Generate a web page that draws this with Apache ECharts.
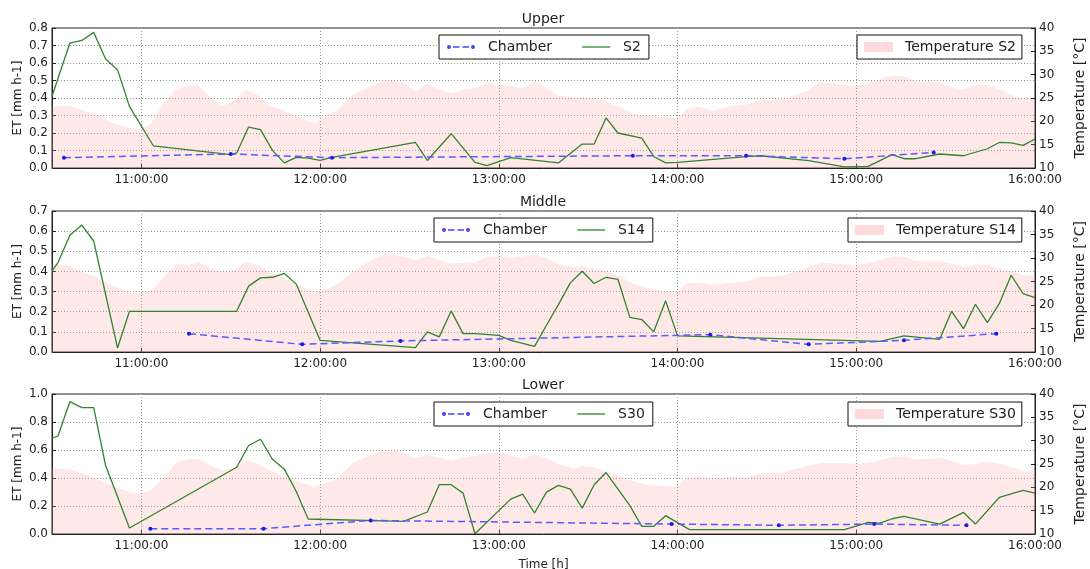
<!DOCTYPE html>
<html>
<head>
<meta charset="utf-8">
<script src="https://cdn.jsdelivr.net/npm/echarts@6/dist/echarts.min.js"></script>
<style>html,body{margin:0;padding:0;background:#fff}#c{width:1090px;height:569px}</style>
</head>
<body>
<div id="c"></div>
<script>
// ---------------- DATA ----------------
const panelTitles = ['Upper', 'Middle', 'Lower'];
const sensorNames = ['S2', 'S14', 'S30'];
const tempNames = ['Temperature S2', 'Temperature S14', 'Temperature S30'];
const etMax = [0.8, 0.7, 1.0];
const etStep = [0.1, 0.1, 0.2];

const s2Times = ['10:30','10:36','10:40','10:44','10:48','10:52','10:56','11:04','11:30','11:32','11:36','11:40','11:44','11:48','11:52','11:56','12:00','12:04','12:32','12:36','12:44','12:52','12:56','13:04','13:20','13:28','13:32','13:36','13:40','13:48','13:52','13:56','14:00','14:24','14:28','14:44','14:56','15:04','15:12','15:16','15:20','15:28','15:36','15:44','15:48','15:52','15:56','16:00'];
const s2Values = [0.41,0.714,0.729,0.775,0.623,0.562,0.352,0.127,0.076,0.086,0.234,0.219,0.101,0.029,0.061,0.057,0.043,0.061,0.146,0.043,0.196,0.032,0.013,0.059,0.029,0.137,0.137,0.286,0.2,0.171,0.066,0.029,0.032,0.066,0.07,0.042,0.006,0.009,0.076,0.053,0.053,0.08,0.07,0.11,0.146,0.143,0.129,0.166];

const s14Times = ['10:30','10:32','10:36','10:40','10:44','10:52','10:56','11:32','11:36','11:40','11:44','11:48','11:52','12:00','12:32','12:36','12:40','12:44','12:48','12:52','13:00','13:04','13:12','13:16','13:20','13:24','13:28','13:32','13:36','13:40','13:44','13:48','13:52','13:56','14:00','15:08','15:16','15:28','15:32','15:36','15:40','15:44','15:48','15:52','15:56','16:00'];
const s14Values = [0.401,0.444,0.58,0.63,0.551,0.02,0.202,0.202,0.327,0.368,0.371,0.39,0.337,0.058,0.022,0.1,0.075,0.204,0.091,0.091,0.083,0.058,0.028,0.133,0.235,0.343,0.401,0.34,0.371,0.36,0.172,0.161,0.1,0.254,0.08,0.053,0.08,0.063,0.202,0.116,0.237,0.146,0.24,0.381,0.29,0.27];

const s30Times = ['10:30','10:32','10:36','10:40','10:44','10:48','10:56','11:32','11:36','11:40','11:44','11:48','11:52','11:56','12:28','12:36','12:40','12:44','12:48','12:52','13:04','13:08','13:12','13:16','13:20','13:24','13:28','13:32','13:36','13:44','13:48','13:52','13:56','14:04','14:56','15:04','15:08','15:12','15:16','15:28','15:36','15:40','15:48','15:56','16:00'];
const s30Values = [0.684,0.70,0.945,0.903,0.903,0.489,0.043,0.477,0.632,0.677,0.534,0.463,0.304,0.107,0.09,0.157,0.352,0.352,0.292,0.002,0.249,0.285,0.15,0.299,0.347,0.321,0.185,0.352,0.439,0.202,0.055,0.055,0.131,0.031,0.031,0.083,0.078,0.109,0.126,0.071,0.154,0.071,0.261,0.311,0.292];

const chamberUpperTimes = ['10:34','11:30','12:04','13:45','14:23','14:56','15:26'];
const chamberUpperValues = [0.059,0.08,0.059,0.07,0.07,0.053,0.089];
const chamberMiddleTimes = ['11:16','11:54','12:27','14:11','14:44','15:16','15:47'];
const chamberMiddleValues = [0.091,0.038,0.055,0.086,0.038,0.058,0.091];
const chamberLowerTimes = ['11:03','11:41','12:17','13:58','14:34','15:06','15:37'];
const chamberLowerValues = [0.038,0.038,0.097,0.071,0.062,0.071,0.062];

const tempTimes = ['10:30','10:36','10:40','10:46','10:51','10:56','10:59','11:03','11:08','11:12','11:16','11:19','11:23','11:27','11:31','11:35','11:40','11:43','11:47','11:52','11:58','12:02','12:06','12:11','12:17','12:22','12:25','12:28','12:32','12:36','12:40','12:44','12:48','12:52','12:56','13:00','13:04','13:08','13:12','13:16','13:20','13:25','13:28','13:32','13:36','13:41','13:45','13:50','13:56','14:00','14:03','14:07','14:12','14:17','14:23','14:28','14:35','14:43','14:48','14:55','15:00','15:06','15:12','15:16','15:20','15:28','15:33','15:36','15:40','15:44','15:49','15:53','15:57','16:00'];
const tempUpper = [23.2,23.35,22.5,21.1,19.5,18.6,18.2,19.3,24.3,27.0,27.6,27.6,25.3,23.3,24.3,26.8,25.3,23.3,22.5,21.1,19.6,21.2,22.5,25.7,27.5,28.9,28.7,28.3,26.4,28.0,26.9,25.9,26.8,27.1,28.1,27.8,27.5,27.1,28.6,27.1,25.5,25.1,25.2,25.0,24.3,22.9,21.6,21.1,20.9,20.7,22.5,23.1,22.3,23.1,23.6,24.5,24.7,26.4,28.4,27.9,27.5,28.6,29.8,29.6,28.6,28.3,27.1,26.9,27.9,27.8,26.6,25.3,24.8,24.8];
const tempMiddle = [28.7,28.3,27.2,25.6,23.9,22.7,22.4,22.9,26.3,28.8,28.5,29.2,27.8,26.9,27.4,29.2,28.3,26.9,26.0,24.4,22.8,23.3,24.6,27.1,29.5,31.0,30.6,30.3,29.5,30.5,29.5,28.8,29.0,29.0,30.3,30.3,30.0,30.3,30.8,29.9,28.6,28.1,28.3,27.8,27.2,26.0,24.6,23.5,22.9,22.8,24.6,24.8,24.3,24.7,25.0,26.0,26.1,27.8,29.0,28.7,28.3,29.2,30.3,30.3,29.3,29.3,28.6,28.1,28.5,28.5,27.6,26.9,26.3,26.2];
const tempLower = [24.1,23.8,23.0,21.6,20.1,19.0,18.6,19.3,22.3,25.5,26.0,26.1,24.8,23.6,24.1,25.9,24.8,23.6,22.7,21.3,20.1,20.9,22.0,25.2,27.0,28.0,27.8,27.3,26.3,27.0,26.4,25.7,26.4,26.7,27.3,27.3,26.8,26.1,27.1,26.3,25.0,24.0,24.6,24.3,23.3,22.3,21.3,20.5,20.3,20.1,22.0,22.3,21.8,22.2,22.1,22.9,23.1,24.5,25.2,25.2,25.0,25.5,26.5,26.6,25.9,26.3,25.5,24.8,25.0,25.5,25.0,24.1,23.4,23.5];

// ---------------- BUILD ----------------
const FONT = 'DejaVu Sans';
function toH(s) { const p = s.split(':'); return +p[0] + (+p[1]) / 60; }
function pairs(times, vals) { return times.map((t, i) => [toH(t), vals[i]]); }
function fmtTime(v) {
  if (Math.abs(v - Math.round(v)) > 1e-6) return '';
  const h = Math.round(v);
  return (h < 10 ? '0' : '') + h + ':00:00';
}

const sensorSeries = [pairs(s2Times, s2Values), pairs(s14Times, s14Values), pairs(s30Times, s30Values)];
const chamberSeries = [pairs(chamberUpperTimes, chamberUpperValues), pairs(chamberMiddleTimes, chamberMiddleValues), pairs(chamberLowerTimes, chamberLowerValues)];
const tempSeries = [pairs(tempTimes, tempUpper), pairs(tempTimes, tempMiddle), pairs(tempTimes, tempLower)];

const gridTops = [28, 211, 394];
const gridH = [140, 141, 140];
const legendTops = [35, 218, 402];
const leftLegendX = [439, 434, 434];
const rightLegendX = [857, 848, 848];

// legend glyphs (line handle; dashed handle with end dots)
const lineIcon = 'path://M0,0 L28,0 L28,1.4 L0,1.4 Z';
const chamberIcon = 'path://M0,5 A2,2 0 1,1 4,5 A2,2 0 1,1 0,5 Z M6,4.3 L12.5,4.3 L12.5,5.7 L6,5.7 Z M15.5,4.3 L22,4.3 L22,5.7 L15.5,5.7 Z M24,5 A2,2 0 1,1 28,5 A2,2 0 1,1 24,5 Z M0,0 L0.01,0 L0.01,0.01 Z M0,10 L0.01,10 L0.01,9.99 Z';

const textColor = '#222';
const grids = [], xAxes = [], yAxes = [], series = [], titles = [], legends = [];

for (let i = 0; i < 3; i++) {
  grids.push({ left: 52, right: 55, top: gridTops[i], height: gridH[i], show: true,
    borderColor: '#222', borderWidth: 1, backgroundColor: 'transparent',
    containLabel: false, outerBoundsMode: 'none' });
  xAxes.push({
    type: 'value', gridIndex: i, min: 10.5, max: 16, splitNumber: 5,
    axisLine: { show: true, onZero: false, lineStyle: { color: '#222', width: 1 } },
    axisTick: { show: true, inside: true, length: 4, lineStyle: { color: '#222' } },
    axisLabel: { formatter: fmtTime, color: textColor, fontSize: 12, fontFamily: FONT, margin: 6 },
    splitLine: { show: true, lineStyle: { color: '#9a9a9a', type: [1, 2], width: 1 } },
    name: i === 2 ? 'Time [h]' : '', nameLocation: 'middle', nameGap: 25, nameMoveOverlap: false,
    nameTextStyle: { color: textColor, fontSize: 12, fontFamily: FONT }
  });
  yAxes.push({
    type: 'value', gridIndex: i, position: 'left', min: 0, max: etMax[i], interval: etStep[i],
    axisLine: { show: true, lineStyle: { color: '#222' } },
    axisTick: { show: true, inside: true, length: 4, lineStyle: { color: '#222' } },
    axisLabel: { formatter: v => v.toFixed(1), color: textColor, fontSize: 12, fontFamily: FONT, margin: 4 },
    splitLine: { show: true, lineStyle: { color: '#9a9a9a', type: [1, 2], width: 1 } },
    name: 'ET [mm h-1]', nameLocation: 'middle', nameRotate: 90, nameGap: 28, nameMoveOverlap: false,
    nameTextStyle: { color: textColor, fontSize: 12, fontFamily: FONT }
  });
  yAxes.push({
    type: 'value', gridIndex: i, position: 'right', min: 10, max: 40, interval: 5,
    axisLine: { show: true, lineStyle: { color: '#222' } },
    axisTick: { show: true, inside: true, length: 4, lineStyle: { color: '#222' } },
    axisLabel: { color: textColor, fontSize: 12, fontFamily: FONT, margin: 4 },
    splitLine: { show: false },
    name: 'Temperature [°C]', nameLocation: 'middle', nameRotate: 90, nameGap: 38, nameMoveOverlap: false,
    nameTextStyle: { color: textColor, fontSize: 14, fontFamily: FONT }
  });

  series.push({
    name: tempNames[i], type: 'line', xAxisIndex: i, yAxisIndex: 2 * i + 1,
    data: tempSeries[i], symbol: 'none', silent: true, z: 1,
    color: '#ffd6d6',
    lineStyle: { width: 0, color: 'rgba(0,0,0,0)' },
    areaStyle: { color: 'rgba(255,150,150,0.32)', origin: 'start' }
  });
  series.push({
    name: sensorNames[i], type: 'line', xAxisIndex: i, yAxisIndex: 2 * i,
    data: sensorSeries[i], symbol: 'none', z: 3, color: '#2f852f',
    lineStyle: { color: '#2f852f', width: 1.3 }
  });
  series.push({
    name: 'Chamber', type: 'line', xAxisIndex: i, yAxisIndex: 2 * i,
    data: chamberSeries[i], symbol: 'circle', symbolSize: 4, showSymbol: true, z: 4,
    color: '#1a1aee',
    itemStyle: { color: '#1a1aee' },
    lineStyle: { color: '#5a5aff', width: 1.5, type: [7, 4] }
  });

  titles.push({
    text: panelTitles[i], left: 543, top: gridTops[i] - 16, textAlign: 'center', padding: 0,
    textStyle: { fontSize: 14, fontWeight: 'normal', color: textColor, fontFamily: FONT }
  });

  legends.push({
    data: [{ name: 'Chamber', icon: chamberIcon, itemStyle: { color: '#4444ff' } },
           { name: sensorNames[i], icon: lineIcon, itemStyle: { color: '#3a8f3a' } }],
    left: leftLegendX[i], top: legendTops[i],
    orient: 'horizontal', itemWidth: 28, itemHeight: 10, itemGap: 30,
    padding: [5, 8, 5, 8], borderColor: '#111', borderWidth: 1, borderRadius: 0, backgroundColor: '#fff',
    selectedMode: false,
    textStyle: { fontSize: 14, fontFamily: FONT, color: textColor, padding: [0, 0, 0, 8] }
  });
  legends.push({
    data: [{ name: tempNames[i], icon: 'rect' }], left: rightLegendX[i], top: legendTops[i],
    itemWidth: 29, itemHeight: 10, padding: [5, 6, 5, 7],
    borderColor: '#111', borderWidth: 1, borderRadius: 0, backgroundColor: '#fff',
    selectedMode: false,
    itemStyle: { color: '#ffdada' },
    textStyle: { fontSize: 14, fontFamily: FONT, color: textColor, padding: [0, 0, 0, 7] }
  });
}

const chart = echarts.init(document.getElementById('c'), null, { renderer: 'canvas' });
chart.setOption({
  animation: false,
  backgroundColor: '#fff',
  title: titles,
  legend: legends,
  grid: grids,
  xAxis: xAxes,
  yAxis: yAxes,
  series: series
});
</script>
</body>
</html>
